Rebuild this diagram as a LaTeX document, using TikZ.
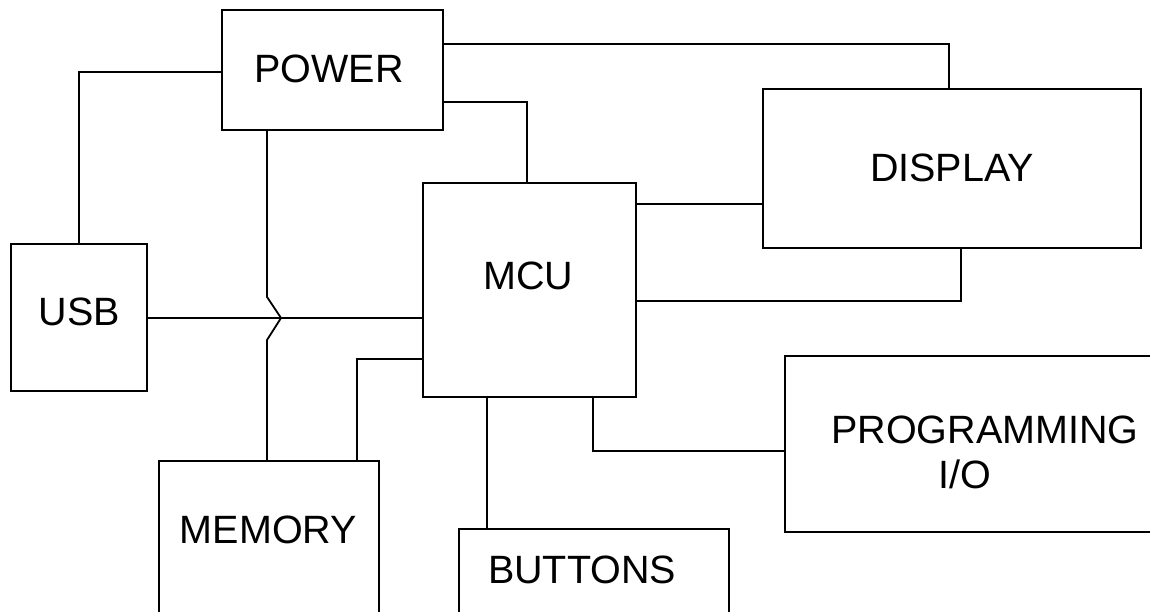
\documentclass[tikz,border=0pt]{standalone}
\usepackage{fontspec}
\setmainfont{Liberation Sans}
\begin{document}
\begin{tikzpicture}[x=1pt,y=-1pt,
  box/.style={draw, line width=1.8pt, rectangle, inner sep=0pt, outer sep=0pt},
  wire/.style={line width=1.8pt, line join=miter},
  lbl/.style={anchor=base, inner sep=0pt, font=\fontsize{39.5}{44}\selectfont}]
\useasboundingbox (0,0) rectangle (1150,612);
\clip (0,0) rectangle (1150,612);
\fill[white] (0,0) rectangle (1150,612);
% boxes
\node[box, minimum width=221pt, minimum height=120pt] (power) at (332.5,70) {};
\node[box, minimum width=378pt, minimum height=159pt] (display) at (952,168.5) {};
\node[box, minimum width=213pt, minimum height=214pt] (mcu) at (529.5,290) {};
\node[box, minimum width=136pt, minimum height=147pt] (usb) at (79,317.5) {};
\node[box, minimum width=220pt, minimum height=189pt] (memory) at (269,555.5) {};
\node[box, minimum width=270pt, minimum height=121pt] (buttons) at (594,589.5) {};
\node[box, minimum width=395pt, minimum height=176pt] (prog) at (982.5,444) {};
% labels
\node[lbl] (tpower) at (329,83) {POWER};
\node[lbl] (tdisplay) at (952,182) {DISPLAY};
\node[lbl] (tmcu) at (528.5,289) {MCU};
\node[lbl] (tusb) at (79.5,325) {USB};
\node[lbl] (tmemory) at (268.5,543) {MEMORY};
\node[lbl] (tbuttons) at (582,583) {BUTTONS};
\node[lbl] (tprog) at (985,443) {PROGRAMMING};
\node[lbl] (tio) at (965,488) {I/O};
% connectors
\draw[wire] (power.west |- 0,72) -| (usb.north);
\draw[wire] (power.east |- 0,44) -| (display.north -| 949,0);
\draw[wire] (power.east |- 0,102) -| (mcu.north -| 527,0);
\draw[wire] (power.south -| 267,0) -- (267,297) -- (281,318) -- (267,340) -- (memory.north -| 267,0);
\draw[wire] (usb.east |- 0,318) -- (mcu.west |- 0,318);
\draw[wire] (mcu.east |- 0,204) -- (display.west |- 0,204);
\draw[wire] (mcu.east |- 0,301) -| (display.south -| 961,0);
\draw[wire] (mcu.west |- 0,359) -| (memory.north -| 357,0);
\draw[wire] (mcu.south -| 487,0) -- (buttons.north -| 487,0);
\draw[wire] (mcu.south -| 593,0) |- (prog.west |- 0,451);
\end{tikzpicture}
\end{document}
